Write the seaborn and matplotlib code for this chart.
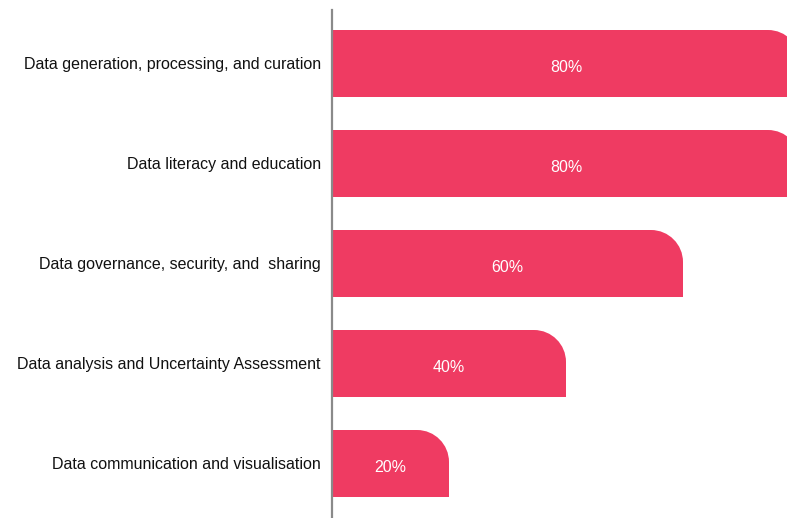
import pandas as pd
import matplotlib.pyplot as plt
import seaborn as sns
from matplotlib.path import Path
from matplotlib.patches import PathPatch

categories = ['Data generation, processing, and curation',
              'Data literacy and education',
              'Data governance, security, and  sharing',
              'Data analysis and Uncertainty Assessment',
              'Data communication and visualisation']
values = [80, 80, 60, 40, 20]
bar_color = '#EF3B62'

df = pd.DataFrame({'category': categories, 'value': values})

sns.set_style('white')
plt.rcParams['font.family'] = ['Liberation Sans', 'DejaVu Sans']

fig = plt.figure(figsize=(7.87, 5.18), dpi=100)
ax = fig.add_axes([332/787, 0, 1 - 332/787, 1 - 10/518])

sns.barplot(data=df, x='value', y='category', orient='h', color=bar_color,
            width=0.67, saturation=1, ax=ax)

ax.set_xlim(0, 455/5.85)
ax.set_ylim(4.545, -0.535)

# swap the plain bars for ones with a rounded top-right corner
rx = 32/5.85
ry = 0.32
k = 0.5523
for p in list(ax.patches):
    x0, y0 = p.get_x(), p.get_y()
    w, h = p.get_width(), p.get_height()
    x1, ytop, ybot = x0 + w, y0, y0 + h
    verts = [(x0, ybot), (x1, ybot), (x1, ytop + ry),
             (x1, ytop + ry*(1-k)), (x1 - rx*(1-k), ytop), (x1 - rx, ytop),
             (x0, ytop), (x0, ybot)]
    codes = [Path.MOVETO, Path.LINETO, Path.LINETO,
             Path.CURVE4, Path.CURVE4, Path.CURVE4,
             Path.LINETO, Path.CLOSEPOLY]
    ax.add_patch(PathPatch(Path(verts, codes), facecolor=bar_color,
                           edgecolor='none', clip_on=True))
    p.remove()
    ax.text(x0 + w/2, y0 + h/2 + 0.04, f'{int(w)}%', color='white',
            ha='center', va='center', fontsize=11.5)

sns.despine(ax=ax, top=True, right=True, bottom=True, left=False)
ax.spines['left'].set_color('#8a8a8a')
ax.spines['left'].set_linewidth(1.6)
ax.set_xticks([])
ax.set_xlabel('')
ax.set_ylabel('')
ax.tick_params(axis='y', length=0, pad=8, labelsize=11.5, labelcolor='#111111')

plt.savefig('out.png', dpi=100)
